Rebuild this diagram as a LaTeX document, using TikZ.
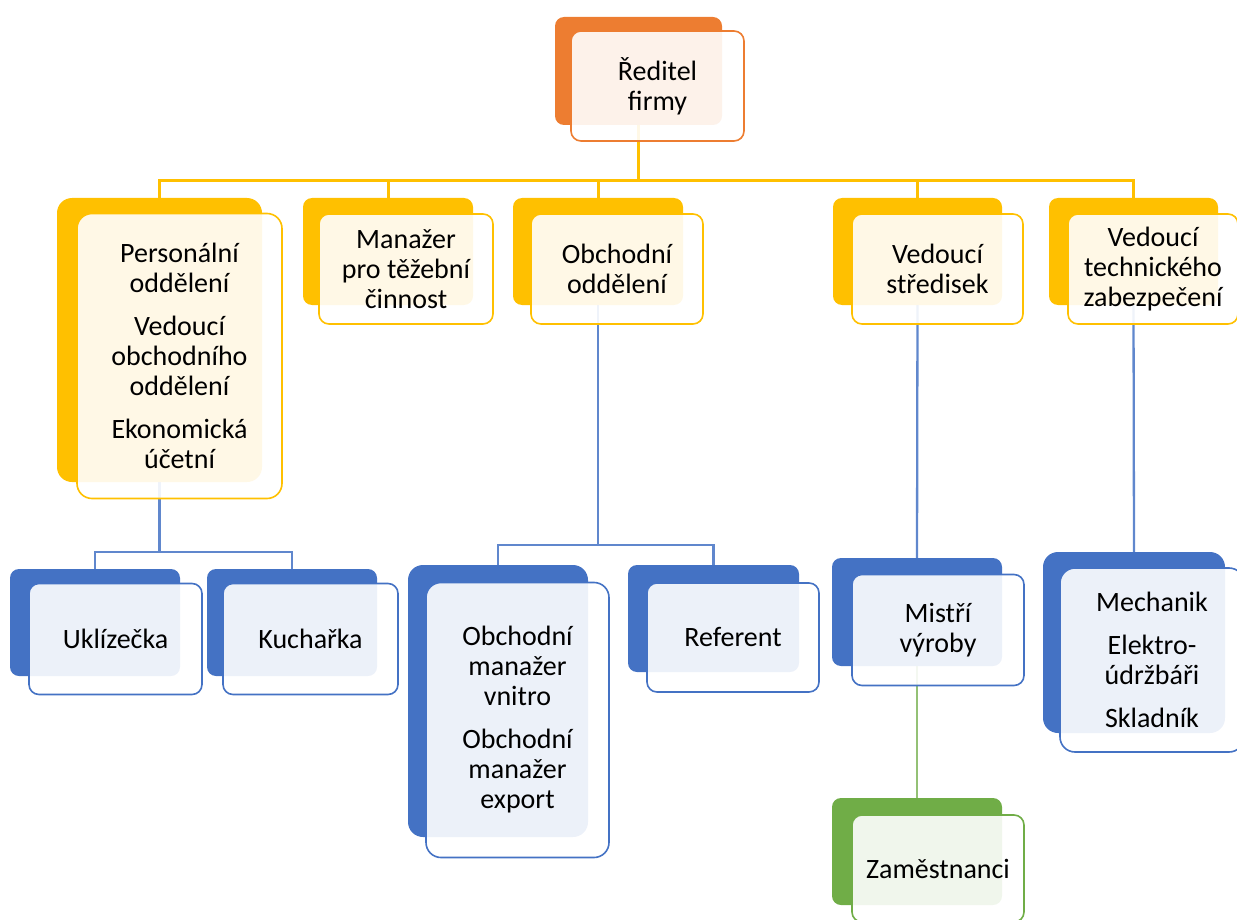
\documentclass[tikz,border=0pt]{standalone}
\usepackage{fontspec}
\setmainfont{Carlito}
\usetikzlibrary{backgrounds}
\definecolor{cOr}{HTML}{ED7D31}
\definecolor{cYe}{HTML}{FFC000}
\definecolor{cBl}{HTML}{4472C4}
\definecolor{cGr}{HTML}{70AD47}
\tikzset{
  backbox/.style={draw=none, fill=#1, rounded corners=9pt, inner sep=0pt, outer sep=0pt},
  bigback/.style={backbox=#1, rounded corners=15pt},
  frontbox/.style={draw=#1, fill=white, fill opacity=0.9, text opacity=1, line width=1.6pt,
    rounded corners=10pt, inner sep=0pt, outer sep=0pt, align=center, text=black,
    font=\fontsize{28}{30}\selectfont},
  bigfront/.style={frontbox=#1, rounded corners=15pt},
  ylink/.style={draw=cYe, line width=3pt},
  blink/.style={draw=cBl!85, line width=2.3pt},
  glink/.style={draw=cGr!75, line width=2.3pt},
}
\begin{document}
\begin{tikzpicture}[x=1pt,y=-1pt]
\useasboundingbox (0,0) rectangle (1237,920);
\clip (0,0) rectangle (1237,920);
\coordinate (busY) at (0,181);
\coordinate (busA) at (0,552);
\coordinate (busB) at (0,545);

% ---- top
\node[backbox=cOr, minimum width=167pt, minimum height=108pt] (rB) at (638.5,71) {};
\node[frontbox=cOr, minimum width=173pt, minimum height=110pt] (rF) at (657.5,86) {Ředitel\\firmy};

% ---- level 1
\node[bigback=cYe, minimum width=205pt, minimum height=284pt] (p1B) at (159.5,340) {};
\node[bigfront=cYe, minimum width=205pt, minimum height=285pt] (p1F) at (179.5,356)
  {Personální\\oddělení\\[13pt]Vedoucí\\obchodního\\oddělení\\[13pt]Ekonomická\\účetní};

\node[backbox=cYe, minimum width=170pt, minimum height=107pt] (p2B) at (388,251.5) {};
\node[frontbox=cYe, minimum width=174pt, minimum height=110pt] (p2F) at (406,269) {Manažer\\pro těžební\\činnost};

\node[backbox=cYe, minimum width=170pt, minimum height=107pt] (p3B) at (598,251.5) {};
\node[frontbox=cYe, minimum width=172pt, minimum height=110pt] (p3F) at (617,269) {Obchodní\\oddělení};

\node[backbox=cYe, minimum width=169pt, minimum height=107pt] (p4B) at (917.5,251.5) {};
\node[frontbox=cYe, minimum width=171pt, minimum height=110pt] (p4F) at (937.5,269) {Vedoucí\\středisek};

\node[backbox=cYe, minimum width=169pt, minimum height=107pt] (p5B) at (1133.5,251.5) {};
\node[frontbox=cYe, minimum width=170pt, minimum height=110pt] (p5F) at (1153,269) {Vedoucí\\technického\\zabezpečení};

% ---- level 2
\node[backbox=cBl, minimum width=170pt, minimum height=107pt] (uB) at (95,622.5) {};
\node[frontbox=cBl, minimum width=173pt, minimum height=111pt] (uF) at (115.5,639) {Uklízečka};

\node[backbox=cBl, minimum width=170pt, minimum height=107pt] (kB) at (292,622.5) {};
\node[frontbox=cBl, minimum width=175pt, minimum height=111pt] (kF) at (310.5,639) {Kuchařka};

\node[bigback=cBl, minimum width=180pt, minimum height=272pt] (omB) at (498,701) {};
\node[bigfront=cBl, minimum width=183pt, minimum height=275pt] (omF) at (517.5,720)
  {Obchodní\\manažer\\vnitro\\[13pt]Obchodní\\manažer\\export};

\node[backbox=cBl, minimum width=171pt, minimum height=107pt] (refB) at (713.5,618.5) {};
\node[frontbox=cBl, minimum width=172pt, minimum height=109pt] (refF) at (733,637.5) {Referent};

\node[backbox=cBl, minimum width=170pt, minimum height=108pt] (mB) at (917,612) {};
\node[frontbox=cBl, minimum width=172pt, minimum height=111pt] (mF) at (938,630) {Mistří\\výroby};

\node[bigback=cBl, minimum width=182pt, minimum height=181pt] (meB) at (1134,642.5) {};
\node[bigfront=cBl, minimum width=184pt, minimum height=184pt] (meF) at (1152,660)
  {Mechanik\\[13pt]Elektro-\\údržbáři\\[13pt]Skladník};

% ---- level 3
\node[backbox=cGr, minimum width=170pt, minimum height=107pt] (zB) at (917,851.5) {};
\node[frontbox=cGr, minimum width=172pt, minimum height=107pt] (zF) at (938,868.5) {Zaměstnanci};

% ---- connectors
\begin{scope}[on background layer]
  \draw[ylink] (rB.south) -- (rB.south |- busY);
  \draw[ylink] (p1B.north) -- (p1B.north |- busY) -- (p5B.north |- busY) -- (p5B.north);
  \draw[ylink] (p2B.north) -- (p2B.north |- busY);
  \draw[ylink] (p3B.north) -- (p3B.north |- busY);
  \draw[ylink] (p4B.north) -- (p4B.north |- busY);

  \draw[blink] (p1B.south) -- (p1B.south |- busA);
  \draw[blink] (uB.north) -- (uB.north |- busA) -- (kB.north |- busA) -- (kB.north);

  \draw[blink] (p3B.south) -- (p3B.south |- busB);
  \draw[blink] (omB.north) -- (omB.north |- busB) -- (refB.north |- busB) -- (refB.north);

  \draw[blink] (p4B.south) -- (mB.north);
  \draw[blink] (p5B.south) -- (meB.north);
  \draw[glink] (mB.south) -- (zB.north);
\end{scope}
\end{tikzpicture}
\end{document}
